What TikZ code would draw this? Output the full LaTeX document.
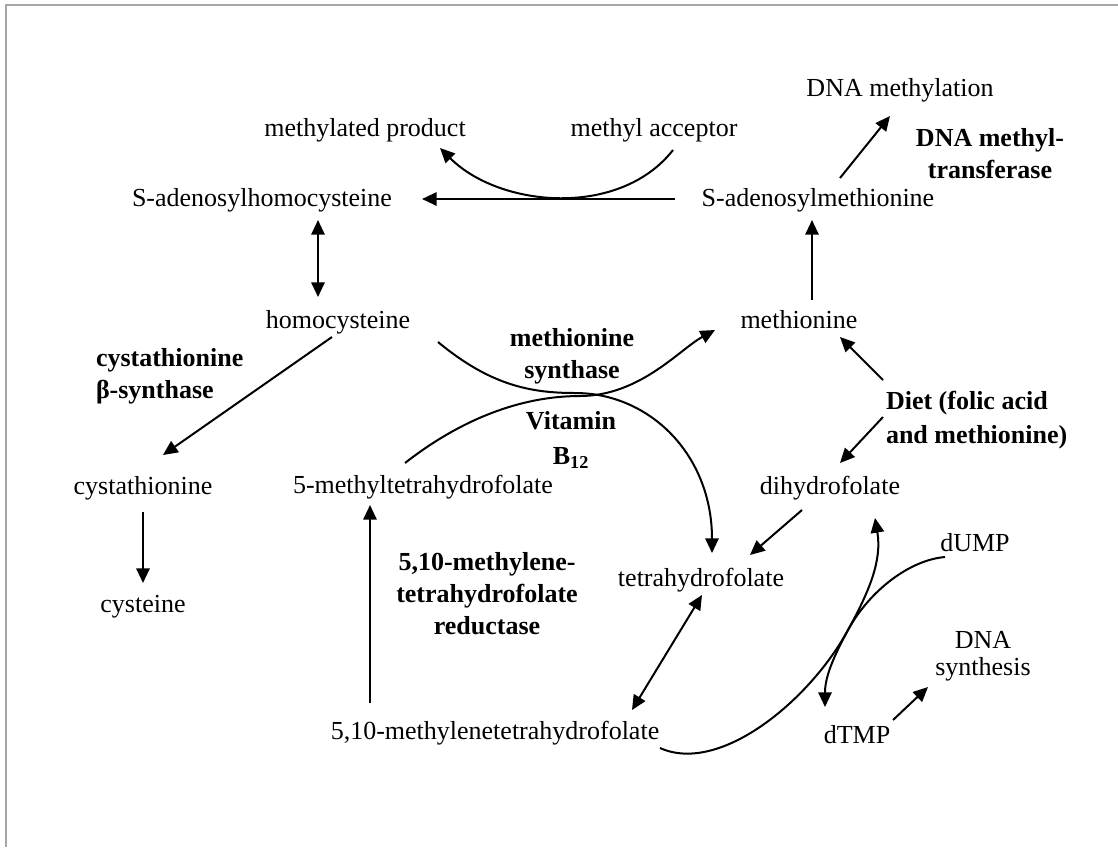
\documentclass[tikz,border=0pt]{standalone}
\usepackage{fontspec}
\setmainfont{Liberation Serif}
\usetikzlibrary{arrows.meta}

\begin{document}
\begin{tikzpicture}[x=0.75pt,y=-0.75pt,line width=1.5pt,
    >={Triangle[length=11pt,width=10pt]},
    every node/.style={inner sep=0pt,font=\fontsize{19.5}{20}\selectfont},
    enz/.style={align=center,font=\fontsize{19.5}{24}\selectfont\bfseries}]
    \useasboundingbox (0,0) rectangle (1118,847);
    \draw[gray!70,line width=1.5pt] (6,847) -- (6,5) -- (1118,5);
    % metabolites
    \node (dnameth) at (900,90) {DNA methylation};
    \node (mprod) at (365,130) {methylated product};
    \node (macc) at (654,130) {methyl acceptor};
    \node (sah) at (262,200) {S-adenosylhomocysteine};
    \node (sam) at (818,200) {S-adenosylmethionine};
    \node (hcy) at (338,322) {homocysteine};
    \node (met) at (799,320) {methionine};
    \node (cysta) at (143,488) {cystathionine};
    \node (cys) at (143,607) {cysteine};
    \node (mthf) at (423,487) {5-methyltetrahydrofolate};
    \node (dhf) at (830,488) {dihydrofolate};
    \node (dump) at (975,543) {dUMP};
    \node (thf) at (701,580) {tetrahydrofolate};
    \node[align=center,font=\fontsize{19.5}{20}\selectfont] (dnasyn) at (983,656) {DNA\\synthesis};
    \node (mthfx) at (495,733) {5,10-methylenetetrahydrofolate};
    \node (dtmp) at (857,735) {dTMP};
    % enzymes and cofactors
    \node[enz] (dnmt) at (990,154) {DNA methyl-\\transferase};
    \node[enz,align=left,anchor=west] (cbs) at (95,376) {cystathionine\\β-synthase};
    \node[enz] (msyn) at (572,356) {methionine\\synthase};
    \node[enz,font=\fontsize{19.5}{26}\selectfont\bfseries] (b12) at (571,440) {Vitamin\\B\textsubscript{12}};
    \node[enz,align=left,anchor=west,font=\fontsize{19.5}{26}\selectfont\bfseries] (diet) at (885,420) {Diet (folic acid\\and methionine)};
    \node[enz] (mthfr) at (487,594) {5,10-methylene-\\tetrahydrofolate\\reductase};
    % reactions
    \draw[->] ([shift={(-143,-1)}]sam.center) -- ([shift={(160,-1)}]sah.center);
    \draw[->] ([shift={(19,20)}]macc.center) .. controls (620,218) and (500,208) .. ([shift={(75,18)}]mprod.center);
    \draw[->] ([shift={(22,-22)}]sam.center) -- ([shift={(-10,26)}]dnameth.center);
    \draw[->] ([shift={(13,-20)}]met.center) -- ([shift={(-6,20)}]sam.center);
    \draw[<->] ([shift={(56,20)}]sah.center) -- ([shift={(-20,-25)}]hcy.center);
    \draw[->] ([shift={(-6,15)}]hcy.center) -- ([shift={(20,-33)}]cysta.center);
    \draw[->] ([shift={(0,24)}]cysta.center) -- ([shift={(0,-24)}]cys.center);
    \draw[->] ([shift={(100,20)}]hcy.center) .. controls (490,385) and (530,393) .. (575,393)
        .. controls (650,393) and (712,455) .. ([shift={(11,-27)}]thf.center);
    \draw[->] ([shift={(-18,-24)}]mthf.center) .. controls (460,420) and (520,396) .. (580,396)
        .. controls (640,396) and (680,349) .. ([shift={(-84,10)}]met.center);
    \draw[->] ([shift={(-125,-30)}]mthfx.center) -- ([shift={(-53,18)}]mthf.center);
    \draw[<->] ([shift={(1,15)}]thf.center) -- ([shift={(137,-23)}]mthfx.center);
    \draw[->] ([shift={(-28,22)}]dhf.center) -- ([shift={(49,-25)}]thf.center);
    \draw[->] ([shift={(-2,-40)}]diet.west) -- ([shift={(41,17)}]met.center);
    \draw[->] ([shift={(-2,-3)}]diet.west) -- ([shift={(10,-25)}]dhf.center);
    \draw ([shift={(165,15)}]mthfx.center) .. controls (720,775) and (810,700) .. (848,630)
        .. controls (870,590) and (910,560) .. ([shift={(-30,14)}]dump.center);
    \draw[<->] ([shift={(45,30)}]dhf.center) .. controls (882,560) and (870,590) .. (848,630)
        .. controls (830,663) and (825,680) .. ([shift={(-32,-28)}]dtmp.center);
    \draw[->] ([shift={(36,-15)}]dtmp.center) -- ([shift={(-55,31)}]dnasyn.center);
\end{tikzpicture}
\end{document}
